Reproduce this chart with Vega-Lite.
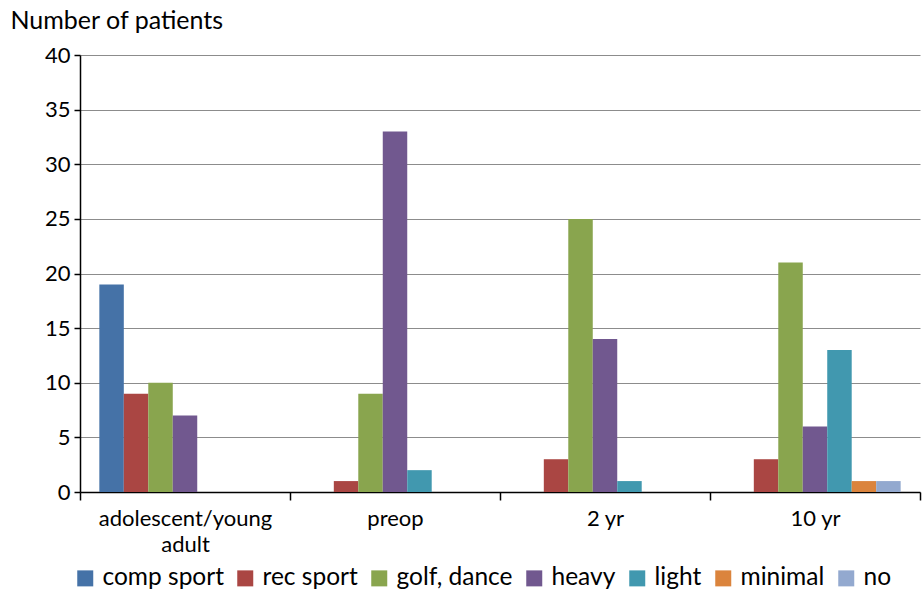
{
  "$schema": "https://vega.github.io/schema/vega-lite/v6.json",
  "width": 840,
  "height": 437,
  "autosize": {"type": "none"},
  "padding": {"left": 80, "top": 55, "right": 3, "bottom": 103},
  "background": "white",
  "config": {
    "font": "Lato",
    "view": {"stroke": null},
    "axis": {"labelFont": "Lato", "titleFont": "Lato"},
    "legend": {"labelFont": "Lato"}
  },
  "data": {
    "values": [
      {"period": "adolescent/young adult", "activity": "comp sport", "patients": 19},
      {"period": "adolescent/young adult", "activity": "rec sport", "patients": 9},
      {"period": "adolescent/young adult", "activity": "golf, dance", "patients": 10},
      {"period": "adolescent/young adult", "activity": "heavy", "patients": 7},
      {"period": "adolescent/young adult", "activity": "light", "patients": 0},
      {"period": "adolescent/young adult", "activity": "minimal", "patients": 0},
      {"period": "adolescent/young adult", "activity": "no", "patients": 0},
      {"period": "preop", "activity": "comp sport", "patients": 0},
      {"period": "preop", "activity": "rec sport", "patients": 1},
      {"period": "preop", "activity": "golf, dance", "patients": 9},
      {"period": "preop", "activity": "heavy", "patients": 33},
      {"period": "preop", "activity": "light", "patients": 2},
      {"period": "preop", "activity": "minimal", "patients": 0},
      {"period": "preop", "activity": "no", "patients": 0},
      {"period": "2 yr", "activity": "comp sport", "patients": 0},
      {"period": "2 yr", "activity": "rec sport", "patients": 3},
      {"period": "2 yr", "activity": "golf, dance", "patients": 25},
      {"period": "2 yr", "activity": "heavy", "patients": 14},
      {"period": "2 yr", "activity": "light", "patients": 1},
      {"period": "2 yr", "activity": "minimal", "patients": 0},
      {"period": "2 yr", "activity": "no", "patients": 0},
      {"period": "10 yr", "activity": "comp sport", "patients": 0},
      {"period": "10 yr", "activity": "rec sport", "patients": 3},
      {"period": "10 yr", "activity": "golf, dance", "patients": 21},
      {"period": "10 yr", "activity": "heavy", "patients": 6},
      {"period": "10 yr", "activity": "light", "patients": 13},
      {"period": "10 yr", "activity": "minimal", "patients": 1},
      {"period": "10 yr", "activity": "no", "patients": 1}
    ]
  },
  "mark": {"type": "bar"},
  "encoding": {
    "x": {
      "field": "period",
      "type": "nominal",
      "sort": ["adolescent/young adult", "preop", "2 yr", "10 yr"],
      "scale": {"paddingInner": 0, "paddingOuter": 0},
      "axis": {
        "title": null,
        "labelAngle": 0,
        "labelFontSize": 22,
        "labelColor": "#000",
        "labelPadding": 8,
        "labelLineHeight": 26,
        "labelExpr": "datum.value == 'adolescent/young adult' ? ['adolescent/young', 'adult'] : datum.value",
        "bandPosition": 0,
        "tickBand": "extent",
        "ticks": true,
        "tickSize": 8,
        "tickColor": "#000",
        "tickWidth": 1.5,
        "domainColor": "#000",
        "domainWidth": 1.5,
        "grid": false
      }
    },
    "xOffset": {
      "field": "activity",
      "type": "nominal",
      "sort": ["comp sport", "rec sport", "golf, dance", "heavy", "light", "minimal", "no"],
      "scale": {"paddingInner": 0, "paddingOuter": 0.79}
    },
    "y": {
      "field": "patients",
      "type": "quantitative",
      "scale": {"domain": [0, 40]},
      "axis": {
        "title": "Number of patients",
        "titleAngle": 0,
        "titleAlign": "left",
        "titleBaseline": "middle",
        "titleX": -70,
        "titleY": -35,
        "titleFontSize": 25,
        "titleFontWeight": "normal",
        "titleColor": "#000",
        "values": [0, 5, 10, 15, 20, 25, 30, 35, 40],
        "labelFontSize": 22,
        "labelColor": "#000",
        "labelPadding": 4,
        "tickSize": 6,
        "tickColor": "#000",
        "tickWidth": 1.5,
        "domainColor": "#000",
        "domainWidth": 1.5,
        "grid": true,
        "gridColor": "#8c8c8c",
        "gridWidth": 1
      }
    },
    "color": {
      "field": "activity",
      "type": "nominal",
      "sort": ["comp sport", "rec sport", "golf, dance", "heavy", "light", "minimal", "no"],
      "scale": {
        "domain": ["comp sport", "rec sport", "golf, dance", "heavy", "light", "minimal", "no"],
        "range": ["#4572A7", "#AA4643", "#89A54E", "#71588F", "#4198AF", "#DB843D", "#93A9CF"]
      },
      "legend": {
        "title": null,
        "orient": "none",
        "direction": "horizontal",
        "legendX": -7,
        "legendY": 511,
        "symbolType": "square",
        "symbolSize": 256,
        "symbolStrokeWidth": 0,
        "labelFontSize": 24.5,
        "labelColor": "#000",
        "labelOffset": 5,
        "columnPadding": 9
      }
    }
  }
}
